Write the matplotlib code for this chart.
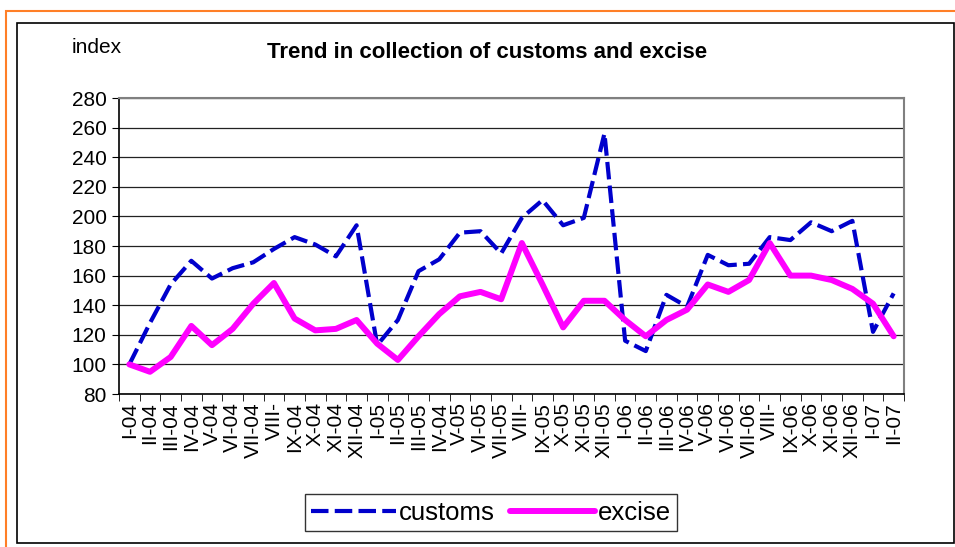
import matplotlib
matplotlib.use('Agg')
import matplotlib.pyplot as plt
from matplotlib.patches import Rectangle

plt.rcParams['font.family'] = ['Liberation Sans', 'DejaVu Sans']

months = ['I-04', 'II-04', 'III-04', 'IV-04', 'V-04', 'VI-04', 'VII-04', 'VIII-',
          'IX-04', 'X-04', 'XI-04', 'XII-04', 'I-05', 'II-05', 'III-05', 'IV-04',
          'V-05', 'VI-05', 'VII-05', 'VIII-', 'IX-05', 'X-05', 'XI-05', 'XII-05',
          'I-06', 'II-06', 'III-06', 'IV-06', 'V-06', 'VI-06', 'VII-06', 'VIII-',
          'IX-06', 'X-06', 'XI-06', 'XII-06', 'I-07', 'II-07']

customs = [100, 128, 154, 170, 158, 165, 169, 178, 186, 181, 173, 194,
           113, 130, 163, 171, 189, 190, 175, 199, 211, 194, 199, 256,
           116, 109, 147, 139, 174, 167, 168, 186, 184, 196, 190, 197,
           122, 148]

excise = [100, 95, 105, 126, 113, 124, 141, 155, 131, 123, 124, 130,
          114, 103, 119, 134, 146, 149, 144, 182, 154, 125, 143, 143,
          130, 119, 130, 137, 154, 149, 157, 182, 160, 160, 157, 151,
          141, 119]

W, H = 955, 547
fig = plt.figure(figsize=(W / 100, H / 100), dpi=100)

# outer frames
fig.patches.append(Rectangle((6 / W, -0.05), 1.1, (H - 11) / H + 0.05, transform=fig.transFigure,
                             fill=False, edgecolor='#FF7F27', lw=1.5, zorder=0))
fig.patches.append(Rectangle((17 / W, 1 - 543 / H), (954 - 17) / W, (543 - 23) / H,
                             transform=fig.transFigure, fill=False, edgecolor='black', lw=1.2, zorder=0))

ax = fig.add_axes([119 / W, 1 - 394 / H, (904 - 119) / W, (394 - 98) / H])

x = list(range(len(months)))
ax.plot(x, customs, color='#0000CC', lw=3, linestyle=(0, (4.2, 1.5)), label='customs', zorder=3)
ax.plot(x, excise, color='#FF00FF', lw=4.3, label='excise', solid_capstyle='round', zorder=4)

ax.set_xlim(-0.5, len(months) - 0.5)
ax.set_ylim(80, 280)
ax.set_yticks(range(80, 281, 20))
ax.yaxis.grid(True, color='#222222', lw=0.9)
ax.set_axisbelow(True)

ax.set_xticks(x)
ax.set_xticklabels(months, rotation=90, fontsize=15)
ax.tick_params(axis='x', which='major', length=0, pad=6)
ax.set_xticks([i - 0.5 for i in range(len(months) + 1)], minor=True)
ax.tick_params(axis='x', which='minor', length=5, direction='out', color='black')
ax.tick_params(axis='y', length=5, direction='out', labelsize=15, pad=4)

for s in ['top', 'right']:
    ax.spines[s].set_color('#808080')
    ax.spines[s].set_linewidth(1.5)
for s in ['left', 'bottom']:
    ax.spines[s].set_color('black')
    ax.spines[s].set_linewidth(1.2)

fig.text(97 / W, 1 - 48 / H, 'index', fontsize=15, ha='center', va='center')
fig.text(487 / W, 1 - 52 / H, 'Trend in collection of customs and excise',
         fontsize=16, fontweight='bold', ha='center', va='center')

leg = fig.legend(loc='center', bbox_to_anchor=(491 / W, 1 - 512.5 / H), ncol=2,
                 fontsize=18.5, frameon=True, fancybox=False, edgecolor='black',
                 handlelength=3.3, handletextpad=0.1, columnspacing=0.6,
                 borderpad=0.25)
leg.get_frame().set_linewidth(1.0)

fig.savefig('out.png', dpi=100)
